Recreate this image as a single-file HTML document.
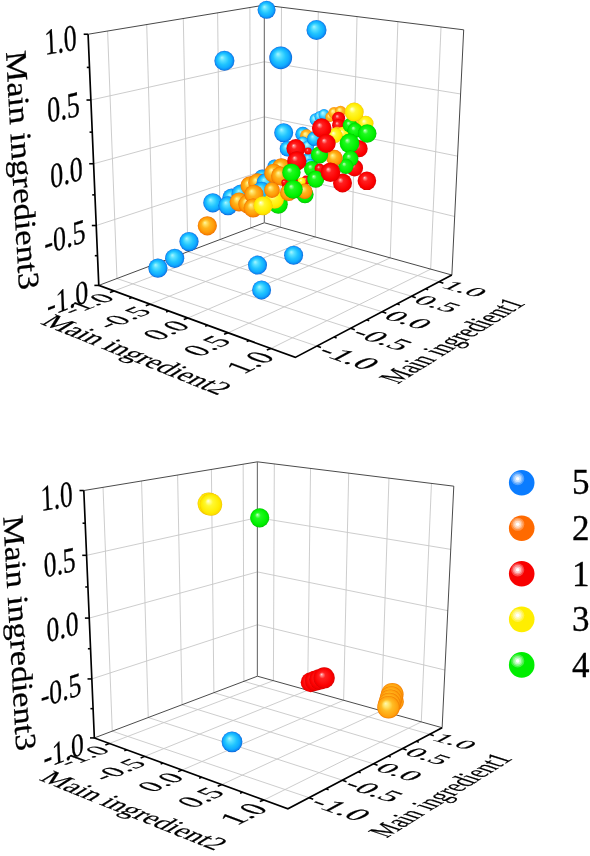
<!DOCTYPE html>
<html><head><meta charset="utf-8"><title>3D scatter</title>
<style>
html,body{margin:0;padding:0;background:#fff}
svg{display:block}
text{font-family:"Liberation Serif",serif;fill:#000;stroke:#000;stroke-width:0.3}
.g{stroke:#c6c6c6;stroke-width:0.9;fill:none}
.e{stroke:#333;stroke-width:0.9;fill:none}
.e2{stroke:#777;stroke-width:1.2;fill:none}
.ax{stroke:#000;stroke-width:1.7;fill:none;stroke-linejoin:miter}
.tk{stroke:#000;stroke-width:1.6;fill:none}
</style></head><body>
<svg width="590" height="856" viewBox="0 0 590 856">
<defs>
<radialGradient id="b" cx="0.5" cy="0.5" r="0.5" fx="0.37" fy="0.33"><stop offset="0" stop-color="#a8f6ff"/><stop offset="0.25" stop-color="#58e0ff"/><stop offset="0.55" stop-color="#20c4ff"/><stop offset="0.8" stop-color="#10aaff"/><stop offset="0.93" stop-color="#0c88f0"/><stop offset="1" stop-color="#0a5cd4"/></radialGradient>
<radialGradient id="o" cx="0.5" cy="0.5" r="0.5" fx="0.37" fy="0.33"><stop offset="0" stop-color="#fff6a8"/><stop offset="0.18" stop-color="#ffe060"/><stop offset="0.45" stop-color="#ffb41c"/><stop offset="0.75" stop-color="#ff9c08"/><stop offset="0.92" stop-color="#f88400"/><stop offset="1" stop-color="#e86800"/></radialGradient>
<radialGradient id="b2" cx="0.5" cy="0.5" r="0.5" fx="0.37" fy="0.33"><stop offset="0" stop-color="#c4fbff"/><stop offset="0.3" stop-color="#80eaff"/><stop offset="0.6" stop-color="#38ceff"/><stop offset="0.88" stop-color="#14acff"/><stop offset="1" stop-color="#0a78e6"/></radialGradient>
<radialGradient id="o2" cx="0.5" cy="0.5" r="0.5" fx="0.37" fy="0.33"><stop offset="0" stop-color="#fff8b0"/><stop offset="0.25" stop-color="#ffe468"/><stop offset="0.5" stop-color="#ffbc24"/><stop offset="0.88" stop-color="#ffa00c"/><stop offset="1" stop-color="#f27c00"/></radialGradient>
<radialGradient id="r" cx="0.5" cy="0.5" r="0.5" fx="0.37" fy="0.33"><stop offset="0" stop-color="#ffd8d8"/><stop offset="0.1" stop-color="#ff8c8c"/><stop offset="0.3" stop-color="#ff2020"/><stop offset="0.8" stop-color="#fc0000"/><stop offset="0.94" stop-color="#ec0000"/><stop offset="1" stop-color="#cc0000"/></radialGradient>
<radialGradient id="y" cx="0.5" cy="0.5" r="0.5" fx="0.37" fy="0.33"><stop offset="0" stop-color="#ffffe8"/><stop offset="0.12" stop-color="#ffffa0"/><stop offset="0.35" stop-color="#fff830"/><stop offset="0.8" stop-color="#ffec00"/><stop offset="0.94" stop-color="#fcdc00"/><stop offset="1" stop-color="#ecbc00"/></radialGradient>
<radialGradient id="g" cx="0.5" cy="0.5" r="0.5" fx="0.37" fy="0.33"><stop offset="0" stop-color="#d8ffd8"/><stop offset="0.1" stop-color="#8cff8c"/><stop offset="0.3" stop-color="#20fa20"/><stop offset="0.8" stop-color="#00f000"/><stop offset="0.94" stop-color="#00dc00"/><stop offset="1" stop-color="#00b000"/></radialGradient>
</defs>
<rect width="590" height="856" fill="#fff"/>
<g id="top">
<line x1="116.96" y1="278.52" x2="316.86" y2="346.08" class="g"/>
<line x1="114.06" y1="291" x2="280.56" y2="227.28" class="g"/>
<line x1="116.96" y1="278.52" x2="107.6" y2="31.01" class="g"/>
<line x1="280.56" y1="227.28" x2="281.49" y2="7.24" class="g"/>
<line x1="153.51" y1="264.69" x2="350.65" y2="328.3" class="g"/>
<line x1="149.91" y1="304.14" x2="315.34" y2="236.98" class="g"/>
<line x1="153.51" y1="264.69" x2="146.71" y2="24.55" class="g"/>
<line x1="96.23" y1="225.52" x2="264.33" y2="170.51" class="g"/>
<line x1="315.34" y1="236.98" x2="318.28" y2="11.8" class="g"/>
<line x1="264.33" y1="170.51" x2="454.69" y2="216.5" class="g"/>
<line x1="187.84" y1="251.7" x2="382.16" y2="311.71" class="g"/>
<line x1="187.87" y1="318.05" x2="351.86" y2="247.16" class="g"/>
<line x1="187.84" y1="251.7" x2="183.31" y2="18.51" class="g"/>
<line x1="93.6" y1="163.75" x2="264.34" y2="116.86" class="g"/>
<line x1="351.86" y1="247.16" x2="357.02" y2="16.6" class="g"/>
<line x1="264.34" y1="116.86" x2="457.6" y2="156.17" class="g"/>
<line x1="220.15" y1="239.47" x2="411.62" y2="296.21" class="g"/>
<line x1="228.13" y1="332.81" x2="390.25" y2="257.86" class="g"/>
<line x1="220.15" y1="239.47" x2="217.62" y2="12.84" class="g"/>
<line x1="90.88" y1="100.03" x2="264.34" y2="61.75" class="g"/>
<line x1="390.25" y1="257.86" x2="397.88" y2="21.67" class="g"/>
<line x1="264.34" y1="61.75" x2="460.6" y2="93.98" class="g"/>
<line x1="250.61" y1="227.95" x2="439.22" y2="281.69" class="g"/>
<line x1="270.91" y1="348.48" x2="430.68" y2="269.13" class="g"/>
<line x1="250.61" y1="227.95" x2="249.86" y2="7.51" class="g"/>
<line x1="430.68" y1="269.13" x2="441.03" y2="27.01" class="g"/>
<line x1="88.08" y1="34.24" x2="264.34" y2="5.12" class="e"/>
<line x1="264.34" y1="5.12" x2="463.7" y2="29.82" class="e"/>
<line x1="463.7" y1="29.82" x2="451.86" y2="275.03" class="e"/>
<line x1="98.78" y1="285.4" x2="264.33" y2="222.76" class="e"/>
<line x1="264.33" y1="222.76" x2="451.86" y2="275.03" class="e"/>
<line x1="264.34" y1="5.12" x2="264.33" y2="222.76" class="e2"/>
<polyline points="88.08,34.24 98.78,285.4 295.3,357.42 451.86,275.03" class="ax"/>
<line x1="98.78" y1="285.4" x2="94.38" y2="285.4" class="tk"/>
<line x1="114.06" y1="291" x2="109.95" y2="292.56" class="tk"/>
<line x1="316.86" y1="346.08" x2="320.99" y2="347.59" class="tk"/>
<line x1="96.23" y1="225.52" x2="91.83" y2="225.52" class="tk"/>
<line x1="149.91" y1="304.14" x2="145.8" y2="305.7" class="tk"/>
<line x1="350.65" y1="328.3" x2="354.78" y2="329.81" class="tk"/>
<line x1="93.6" y1="163.75" x2="89.2" y2="163.75" class="tk"/>
<line x1="187.87" y1="318.05" x2="183.76" y2="319.61" class="tk"/>
<line x1="382.16" y1="311.71" x2="386.3" y2="313.23" class="tk"/>
<line x1="90.88" y1="100.03" x2="86.48" y2="100.03" class="tk"/>
<line x1="228.13" y1="332.81" x2="224.02" y2="334.36" class="tk"/>
<line x1="411.62" y1="296.21" x2="415.75" y2="297.72" class="tk"/>
<line x1="88.08" y1="34.24" x2="83.68" y2="34.24" class="tk"/>
<line x1="270.91" y1="348.48" x2="266.79" y2="350.04" class="tk"/>
<line x1="439.22" y1="281.69" x2="443.35" y2="283.2" class="tk"/>
<line x1="97.51" y1="255.69" x2="94.81" y2="255.69" class="tk"/>
<line x1="131.73" y1="297.48" x2="129.21" y2="298.43" class="tk"/>
<line x1="334.06" y1="337.03" x2="336.59" y2="337.96" class="tk"/>
<line x1="94.92" y1="194.87" x2="92.22" y2="194.87" class="tk"/>
<line x1="168.62" y1="311" x2="166.09" y2="311.95" class="tk"/>
<line x1="366.68" y1="319.86" x2="369.21" y2="320.79" class="tk"/>
<line x1="92.25" y1="132.14" x2="89.55" y2="132.14" class="tk"/>
<line x1="207.7" y1="325.32" x2="205.18" y2="326.28" class="tk"/>
<line x1="397.14" y1="303.83" x2="399.67" y2="304.76" class="tk"/>
<line x1="89.5" y1="67.4" x2="86.8" y2="67.4" class="tk"/>
<line x1="249.19" y1="340.53" x2="246.67" y2="341.48" class="tk"/>
<line x1="425.64" y1="288.83" x2="428.18" y2="289.76" class="tk"/>
<text transform="matrix(0.7522 -0.2846 0.0432 0.9511 88.1 289.44)" x="0" y="12.58" text-anchor="end" font-size="34.5">-1.0</text>
<text transform="matrix(0.7844 -0.3044 0.6958 0.2599 102.41 295.52)" x="4" y="15.79" text-anchor="end" font-size="34.5">-1.0</text>
<text transform="matrix(0.9184 0.3245 -0.7089 0.3805 328.25 350.1)" x="-4.7" y="11.38" text-anchor="start" font-size="34.5">-1.0</text>
<text transform="matrix(0.7517 -0.2459 0.0445 0.9809 85.36 229.07)" x="0" y="12.58" text-anchor="end" font-size="34.5">-0.5</text>
<text transform="matrix(0.7826 -0.3224 0.7365 0.2751 138.29 308.93)" x="4" y="15.79" text-anchor="end" font-size="34.5">-0.5</text>
<text transform="matrix(0.9064 0.3022 -0.66 0.3542 361.9 332.05)" x="-4.7" y="11.38" text-anchor="start" font-size="34.5">-0.5</text>
<text transform="matrix(0.7511 -0.2063 0.0459 1.0122 82.54 166.79)" x="0" y="12.58" text-anchor="end" font-size="34.5">0.0</text>
<text transform="matrix(0.7791 -0.3419 0.7809 0.2917 176.31 323.13)" x="4" y="15.79" text-anchor="end" font-size="34.5">0.0</text>
<text transform="matrix(0.8939 0.2821 -0.6159 0.3306 393.26 315.21)" x="-4.7" y="11.38" text-anchor="start" font-size="34.5">0.0</text>
<text transform="matrix(0.7506 -0.1656 0.0474 1.045 79.62 102.51)" x="0" y="12.58" text-anchor="end" font-size="34.5">0.5</text>
<text transform="matrix(0.7737 -0.3633 0.8295 0.3099 216.65 338.2)" x="4" y="15.79" text-anchor="end" font-size="34.5">0.5</text>
<text transform="matrix(0.881 0.264 -0.5761 0.3092 422.56 299.49)" x="-4.7" y="11.38" text-anchor="start" font-size="34.5">0.5</text>
<text transform="matrix(0.75 -0.1239 0.049 1.0794 76.61 36.13)" x="0" y="12.58" text-anchor="end" font-size="34.5">1.0</text>
<text transform="matrix(0.7661 -0.3867 0.8827 0.3297 259.54 354.22)" x="4" y="15.79" text-anchor="end" font-size="34.5">1.0</text>
<text transform="matrix(0.868 0.2475 -0.54 0.2899 449.99 284.76)" x="-4.7" y="11.38" text-anchor="start" font-size="34.5">1.0</text>
<text transform="matrix(0.0553 1.0 -0.865 0.11 12.5 171.5)" text-anchor="middle" font-size="34.5">Main ingredient3</text>
<text transform="matrix(0.7515 0.302 -0.67 0.42 129 359.5)" text-anchor="middle" font-size="34.5">Main ingredient2</text>
<text transform="matrix(0.5388 -0.338 0.874 0.285 462 343.9)" text-anchor="middle" font-size="34.5">Main ingredient1</text>
</g>
<g id="bot" transform="translate(-2.95,456.8) scale(0.985)">
<line x1="116.96" y1="278.52" x2="316.86" y2="346.08" class="g"/>
<line x1="114.06" y1="291" x2="280.56" y2="227.28" class="g"/>
<line x1="116.96" y1="278.52" x2="107.6" y2="31.01" class="g"/>
<line x1="280.56" y1="227.28" x2="281.49" y2="7.24" class="g"/>
<line x1="153.51" y1="264.69" x2="350.65" y2="328.3" class="g"/>
<line x1="149.91" y1="304.14" x2="315.34" y2="236.98" class="g"/>
<line x1="153.51" y1="264.69" x2="146.71" y2="24.55" class="g"/>
<line x1="96.23" y1="225.52" x2="264.33" y2="170.51" class="g"/>
<line x1="315.34" y1="236.98" x2="318.28" y2="11.8" class="g"/>
<line x1="264.33" y1="170.51" x2="454.69" y2="216.5" class="g"/>
<line x1="187.84" y1="251.7" x2="382.16" y2="311.71" class="g"/>
<line x1="187.87" y1="318.05" x2="351.86" y2="247.16" class="g"/>
<line x1="187.84" y1="251.7" x2="183.31" y2="18.51" class="g"/>
<line x1="93.6" y1="163.75" x2="264.34" y2="116.86" class="g"/>
<line x1="351.86" y1="247.16" x2="357.02" y2="16.6" class="g"/>
<line x1="264.34" y1="116.86" x2="457.6" y2="156.17" class="g"/>
<line x1="220.15" y1="239.47" x2="411.62" y2="296.21" class="g"/>
<line x1="228.13" y1="332.81" x2="390.25" y2="257.86" class="g"/>
<line x1="220.15" y1="239.47" x2="217.62" y2="12.84" class="g"/>
<line x1="90.88" y1="100.03" x2="264.34" y2="61.75" class="g"/>
<line x1="390.25" y1="257.86" x2="397.88" y2="21.67" class="g"/>
<line x1="264.34" y1="61.75" x2="460.6" y2="93.98" class="g"/>
<line x1="250.61" y1="227.95" x2="439.22" y2="281.69" class="g"/>
<line x1="270.91" y1="348.48" x2="430.68" y2="269.13" class="g"/>
<line x1="250.61" y1="227.95" x2="249.86" y2="7.51" class="g"/>
<line x1="430.68" y1="269.13" x2="441.03" y2="27.01" class="g"/>
<line x1="88.08" y1="34.24" x2="264.34" y2="5.12" class="e"/>
<line x1="264.34" y1="5.12" x2="463.7" y2="29.82" class="e"/>
<line x1="463.7" y1="29.82" x2="451.86" y2="275.03" class="e"/>
<line x1="98.78" y1="285.4" x2="264.33" y2="222.76" class="e"/>
<line x1="264.33" y1="222.76" x2="451.86" y2="275.03" class="e"/>
<line x1="264.34" y1="5.12" x2="264.33" y2="222.76" class="e2"/>
<polyline points="88.08,34.24 98.78,285.4 295.3,357.42 451.86,275.03" class="ax"/>
<line x1="98.78" y1="285.4" x2="94.38" y2="285.4" class="tk"/>
<line x1="114.06" y1="291" x2="109.95" y2="292.56" class="tk"/>
<line x1="316.86" y1="346.08" x2="320.99" y2="347.59" class="tk"/>
<line x1="96.23" y1="225.52" x2="91.83" y2="225.52" class="tk"/>
<line x1="149.91" y1="304.14" x2="145.8" y2="305.7" class="tk"/>
<line x1="350.65" y1="328.3" x2="354.78" y2="329.81" class="tk"/>
<line x1="93.6" y1="163.75" x2="89.2" y2="163.75" class="tk"/>
<line x1="187.87" y1="318.05" x2="183.76" y2="319.61" class="tk"/>
<line x1="382.16" y1="311.71" x2="386.3" y2="313.23" class="tk"/>
<line x1="90.88" y1="100.03" x2="86.48" y2="100.03" class="tk"/>
<line x1="228.13" y1="332.81" x2="224.02" y2="334.36" class="tk"/>
<line x1="411.62" y1="296.21" x2="415.75" y2="297.72" class="tk"/>
<line x1="88.08" y1="34.24" x2="83.68" y2="34.24" class="tk"/>
<line x1="270.91" y1="348.48" x2="266.79" y2="350.04" class="tk"/>
<line x1="439.22" y1="281.69" x2="443.35" y2="283.2" class="tk"/>
<line x1="97.51" y1="255.69" x2="94.81" y2="255.69" class="tk"/>
<line x1="131.73" y1="297.48" x2="129.21" y2="298.43" class="tk"/>
<line x1="334.06" y1="337.03" x2="336.59" y2="337.96" class="tk"/>
<line x1="94.92" y1="194.87" x2="92.22" y2="194.87" class="tk"/>
<line x1="168.62" y1="311" x2="166.09" y2="311.95" class="tk"/>
<line x1="366.68" y1="319.86" x2="369.21" y2="320.79" class="tk"/>
<line x1="92.25" y1="132.14" x2="89.55" y2="132.14" class="tk"/>
<line x1="207.7" y1="325.32" x2="205.18" y2="326.28" class="tk"/>
<line x1="397.14" y1="303.83" x2="399.67" y2="304.76" class="tk"/>
<line x1="89.5" y1="67.4" x2="86.8" y2="67.4" class="tk"/>
<line x1="249.19" y1="340.53" x2="246.67" y2="341.48" class="tk"/>
<line x1="425.64" y1="288.83" x2="428.18" y2="289.76" class="tk"/>
<text transform="matrix(0.7522 -0.2846 0.0432 0.9511 88.1 289.44)" x="0" y="12.58" text-anchor="end" font-size="34.5">-1.0</text>
<text transform="matrix(0.7844 -0.3044 0.6958 0.2599 102.41 295.52)" x="4" y="15.79" text-anchor="end" font-size="34.5">-1.0</text>
<text transform="matrix(0.9184 0.3245 -0.7089 0.3805 328.25 350.1)" x="-4.7" y="11.38" text-anchor="start" font-size="34.5">-1.0</text>
<text transform="matrix(0.7517 -0.2459 0.0445 0.9809 85.36 229.07)" x="0" y="12.58" text-anchor="end" font-size="34.5">-0.5</text>
<text transform="matrix(0.7826 -0.3224 0.7365 0.2751 138.29 308.93)" x="4" y="15.79" text-anchor="end" font-size="34.5">-0.5</text>
<text transform="matrix(0.9064 0.3022 -0.66 0.3542 361.9 332.05)" x="-4.7" y="11.38" text-anchor="start" font-size="34.5">-0.5</text>
<text transform="matrix(0.7511 -0.2063 0.0459 1.0122 82.54 166.79)" x="0" y="12.58" text-anchor="end" font-size="34.5">0.0</text>
<text transform="matrix(0.7791 -0.3419 0.7809 0.2917 176.31 323.13)" x="4" y="15.79" text-anchor="end" font-size="34.5">0.0</text>
<text transform="matrix(0.8939 0.2821 -0.6159 0.3306 393.26 315.21)" x="-4.7" y="11.38" text-anchor="start" font-size="34.5">0.0</text>
<text transform="matrix(0.7506 -0.1656 0.0474 1.045 79.62 102.51)" x="0" y="12.58" text-anchor="end" font-size="34.5">0.5</text>
<text transform="matrix(0.7737 -0.3633 0.8295 0.3099 216.65 338.2)" x="4" y="15.79" text-anchor="end" font-size="34.5">0.5</text>
<text transform="matrix(0.881 0.264 -0.5761 0.3092 422.56 299.49)" x="-4.7" y="11.38" text-anchor="start" font-size="34.5">0.5</text>
<text transform="matrix(0.75 -0.1239 0.049 1.0794 76.61 36.13)" x="0" y="12.58" text-anchor="end" font-size="34.5">1.0</text>
<text transform="matrix(0.7661 -0.3867 0.8827 0.3297 259.54 354.22)" x="4" y="15.79" text-anchor="end" font-size="34.5">1.0</text>
<text transform="matrix(0.868 0.2475 -0.54 0.2899 449.99 284.76)" x="-4.7" y="11.38" text-anchor="start" font-size="34.5">1.0</text>
<text transform="matrix(0.0553 1.0 -0.865 0.11 12.98 180.3)" text-anchor="middle" font-size="34.5">Main ingredient3</text>
<text transform="matrix(0.7515 0.302 -0.67 0.42 131.5 364)" text-anchor="middle" font-size="34.5">Main ingredient2</text>
<text transform="matrix(0.5388 -0.338 0.874 0.285 460 346.9)" text-anchor="middle" font-size="34.5">Main ingredient1</text>
</g>
<g id="st">
<circle cx="266.6" cy="9.8" r="9" fill="url(#b)"/>
<circle cx="316.5" cy="30" r="10" fill="url(#b)"/>
<circle cx="224.4" cy="60.8" r="10" fill="url(#b)"/>
<circle cx="280.7" cy="57.8" r="11.4" fill="url(#b)"/>
<circle cx="157.9" cy="268.1" r="9.6" fill="url(#b)"/>
<circle cx="174.7" cy="258.3" r="9.6" fill="url(#b)"/>
<circle cx="189" cy="241.6" r="9.6" fill="url(#b)"/>
<circle cx="207.3" cy="225.8" r="9.6" fill="url(#o)"/>
<circle cx="257.5" cy="265.1" r="9.5" fill="url(#b)"/>
<circle cx="293.6" cy="255.2" r="9.5" fill="url(#b)"/>
<circle cx="261.6" cy="289.9" r="9.5" fill="url(#b)"/>
<circle cx="212.8" cy="202.8" r="9.6" fill="url(#b)"/>
<circle cx="231.8" cy="198" r="9.5" fill="url(#b)"/>
<circle cx="228" cy="205.7" r="9.5" fill="url(#b)"/>
<circle cx="241" cy="194" r="9.5" fill="url(#b)"/>
<circle cx="262.3" cy="177.5" r="8" fill="url(#b)"/>
<circle cx="274.5" cy="166.5" r="7" fill="url(#b)"/>
<circle cx="250" cy="185.8" r="9.5" fill="url(#o)"/>
<circle cx="257.7" cy="182.8" r="9.5" fill="url(#o)"/>
<circle cx="266.1" cy="182.8" r="9.5" fill="url(#b)"/>
<circle cx="261.5" cy="191.2" r="9.5" fill="url(#b)"/>
<circle cx="239.1" cy="201.9" r="9.5" fill="url(#o)"/>
<circle cx="247.8" cy="204.1" r="9.5" fill="url(#o)"/>
<circle cx="253.9" cy="194.2" r="9.5" fill="url(#o)"/>
<circle cx="253.1" cy="208" r="9.5" fill="url(#o)"/>
<circle cx="289" cy="181" r="9" fill="url(#r)"/>
<circle cx="281.4" cy="167.8" r="9.5" fill="url(#o)"/>
<circle cx="273.7" cy="173.2" r="9.5" fill="url(#o)"/>
<circle cx="280.6" cy="176" r="9.5" fill="url(#o)"/>
<circle cx="284.6" cy="182.5" r="3.2" fill="url(#r)"/>
<circle cx="278.3" cy="204.2" r="9.5" fill="url(#g)"/>
<circle cx="274.5" cy="199.2" r="9.5" fill="url(#y)"/>
<circle cx="272" cy="190" r="7.9" fill="url(#o)"/>
<circle cx="288.6" cy="192.5" r="8.6" fill="url(#o)"/>
<circle cx="263" cy="205.7" r="9.5" fill="url(#y)"/>
<circle cx="283.7" cy="132.7" r="9.5" fill="url(#b)"/>
<circle cx="302.8" cy="134.2" r="7.5" fill="url(#b)"/>
<circle cx="315.8" cy="119.5" r="6.2" fill="url(#b2)"/>
<circle cx="320" cy="116.5" r="5.5" fill="url(#b2)"/>
<circle cx="324" cy="114.6" r="5.5" fill="url(#b2)"/>
<circle cx="287.5" cy="148.7" r="7.8" fill="url(#b)"/>
<circle cx="330.3" cy="117" r="5" fill="url(#o2)"/>
<circle cx="334.1" cy="112.8" r="5.8" fill="url(#o2)"/>
<circle cx="340.5" cy="111.2" r="5.5" fill="url(#o2)"/>
<circle cx="306.6" cy="135.8" r="6.5" fill="url(#o2)"/>
<circle cx="302.8" cy="142.6" r="6" fill="url(#b2)"/>
<circle cx="308.1" cy="146.4" r="6" fill="url(#b2)"/>
<circle cx="314.2" cy="138.8" r="7.2" fill="url(#b)"/>
<circle cx="308.9" cy="159.4" r="7" fill="url(#b)"/>
<circle cx="308.1" cy="151" r="3.6" fill="url(#r)"/>
<circle cx="338.6" cy="118.2" r="6.5" fill="url(#r)"/>
<circle cx="338.4" cy="125.2" r="6.3" fill="url(#r)"/>
<circle cx="337.1" cy="132" r="5.5" fill="url(#o2)"/>
<circle cx="343.2" cy="134.2" r="7.5" fill="url(#y)"/>
<circle cx="335" cy="135.5" r="7.5" fill="url(#y)"/>
<circle cx="358.8" cy="120.5" r="5.5" fill="url(#o2)"/>
<circle cx="365.7" cy="123.6" r="7.8" fill="url(#y)"/>
<circle cx="359.1" cy="148.7" r="8.6" fill="url(#r)"/>
<circle cx="354.6" cy="168" r="8.5" fill="url(#r)"/>
<circle cx="350" cy="125.4" r="7.3" fill="url(#g)"/>
<circle cx="355" cy="130.4" r="7.6" fill="url(#g)"/>
<circle cx="354.2" cy="112.1" r="9.5" fill="url(#y)"/>
<circle cx="367.2" cy="133.5" r="9.3" fill="url(#g)"/>
<circle cx="349.5" cy="143.4" r="9.8" fill="url(#g)"/>
<circle cx="350.4" cy="158.6" r="8" fill="url(#g)"/>
<circle cx="345.8" cy="166.3" r="7.6" fill="url(#g)"/>
<circle cx="334.4" cy="158" r="8.2" fill="url(#o)"/>
<circle cx="319.5" cy="154.8" r="8.6" fill="url(#g)"/>
<circle cx="321.7" cy="128.1" r="9.8" fill="url(#r)"/>
<circle cx="326.2" cy="143.4" r="9.5" fill="url(#r)"/>
<circle cx="310.1" cy="164.1" r="5" fill="url(#b2)"/>
<circle cx="312" cy="169" r="8" fill="url(#g)"/>
<circle cx="295.9" cy="148.6" r="9.5" fill="url(#r)"/>
<circle cx="296.8" cy="161" r="9.7" fill="url(#r)"/>
<circle cx="319.6" cy="168.6" r="5" fill="url(#r)"/>
<circle cx="306" cy="180.3" r="4.8" fill="url(#r)"/>
<circle cx="301.7" cy="181.4" r="4" fill="url(#y)"/>
<circle cx="291.4" cy="172.6" r="9.2" fill="url(#g)"/>
<circle cx="305" cy="194.6" r="8.6" fill="url(#g)"/>
<circle cx="304.7" cy="191.3" r="7.8" fill="url(#o)"/>
<circle cx="293.3" cy="189.3" r="9.4" fill="url(#g)"/>
<circle cx="315.7" cy="179.1" r="8.6" fill="url(#g)"/>
<circle cx="342.5" cy="182.9" r="9.5" fill="url(#r)"/>
<circle cx="330.5" cy="172.3" r="9.8" fill="url(#r)"/>
<circle cx="366.9" cy="180.8" r="9.3" fill="url(#r)"/>
</g>
<g id="sb">
<circle cx="208.8" cy="503.8" r="11.2" fill="url(#y)"/>
<circle cx="211" cy="504.6" r="11.2" fill="url(#y)"/>
<circle cx="259.7" cy="517.8" r="9.6" fill="url(#g)"/>
<circle cx="232" cy="741.8" r="10.4" fill="url(#b)"/>
<circle cx="310.7" cy="682.3" r="10" fill="url(#r)"/>
<circle cx="315.2" cy="680.8" r="10.2" fill="url(#r)"/>
<circle cx="319.7" cy="679.4" r="10.4" fill="url(#r)"/>
<circle cx="324.2" cy="677.9" r="10.6" fill="url(#r)"/>
<circle cx="394.4" cy="701.7" r="9.5" fill="url(#o2)"/>
<circle cx="392.3" cy="694.3" r="11.3" fill="url(#o2)"/>
<circle cx="391.3" cy="697.6" r="11.3" fill="url(#o2)"/>
<circle cx="390.4" cy="700.8" r="11.3" fill="url(#o2)"/>
<circle cx="389.4" cy="704.1" r="11.3" fill="url(#o2)"/>
<circle cx="388.5" cy="707.3" r="11.3" fill="url(#o2)"/>
</g>
<g id="legend">
<circle cx="521.7" cy="482.7" r="12.8" fill="#0a7cff"/>
<circle cx="517.7" cy="478.7" r="6.6" fill="#fff" fill-opacity="0.28"/>
<circle cx="517.7" cy="478.7" r="5.0" fill="#fff" fill-opacity="0.35"/>
<circle cx="517.7" cy="478.7" r="3.4" fill="#fff" fill-opacity="0.5"/>
<circle cx="517.7" cy="478.7" r="1.8" fill="#fff" fill-opacity="1.0"/>
<text x="572" y="494.4" font-size="35">5</text>
<circle cx="521.7" cy="528.25" r="12.8" fill="#ff6a00"/>
<circle cx="517.7" cy="524.25" r="6.6" fill="#fff" fill-opacity="0.28"/>
<circle cx="517.7" cy="524.25" r="5.0" fill="#fff" fill-opacity="0.35"/>
<circle cx="517.7" cy="524.25" r="3.4" fill="#fff" fill-opacity="0.5"/>
<circle cx="517.7" cy="524.25" r="1.8" fill="#fff" fill-opacity="1.0"/>
<text x="572" y="539.95" font-size="35">2</text>
<circle cx="521.7" cy="573.8" r="12.8" fill="#f80000"/>
<circle cx="517.7" cy="569.8" r="6.6" fill="#fff" fill-opacity="0.28"/>
<circle cx="517.7" cy="569.8" r="5.0" fill="#fff" fill-opacity="0.35"/>
<circle cx="517.7" cy="569.8" r="3.4" fill="#fff" fill-opacity="0.5"/>
<circle cx="517.7" cy="569.8" r="1.8" fill="#fff" fill-opacity="1.0"/>
<text x="572" y="585.5" font-size="35">1</text>
<circle cx="521.7" cy="619.35" r="12.8" fill="#ffee00"/>
<circle cx="517.7" cy="615.35" r="6.6" fill="#fff" fill-opacity="0.28"/>
<circle cx="517.7" cy="615.35" r="5.0" fill="#fff" fill-opacity="0.35"/>
<circle cx="517.7" cy="615.35" r="3.4" fill="#fff" fill-opacity="0.5"/>
<circle cx="517.7" cy="615.35" r="1.8" fill="#fff" fill-opacity="1.0"/>
<text x="572" y="631.05" font-size="35">3</text>
<circle cx="521.7" cy="664.9" r="12.8" fill="#00ee00"/>
<circle cx="517.7" cy="660.9" r="6.6" fill="#fff" fill-opacity="0.28"/>
<circle cx="517.7" cy="660.9" r="5.0" fill="#fff" fill-opacity="0.35"/>
<circle cx="517.7" cy="660.9" r="3.4" fill="#fff" fill-opacity="0.5"/>
<circle cx="517.7" cy="660.9" r="1.8" fill="#fff" fill-opacity="1.0"/>
<text x="572" y="676.6" font-size="35">4</text>
</g>
</svg>
</body></html>
